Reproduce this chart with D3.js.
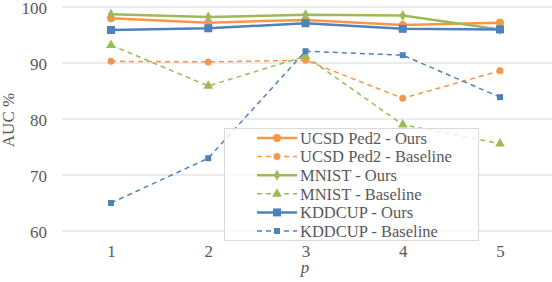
<!DOCTYPE html>
<html><head><meta charset="utf-8">
<script src="https://cdn.jsdelivr.net/npm/d3@7"></script>
<style>body{margin:0;background:#fff}svg{display:block}</style>
</head><body>
<svg id="c" width="552" height="282"></svg>
<script>
const categories = [1, 2, 3, 4, 5];
const yTicks = [60, 70, 80, 90, 100];
const seriesNames = ["UCSD Ped2 - Ours","UCSD Ped2 - Baseline","MNIST - Ours","MNIST - Baseline","KDDCUP - Ours","KDDCUP - Baseline"];
const ucsdOurs = [98.0, 97.2, 97.7, 96.8, 97.2];
const ucsdBase = [90.3, 90.2, 90.5, 83.7, 88.6];
const mnistOurs = [98.7, 98.2, 98.6, 98.5, 96.0];
const mnistBase = [93.2, 85.9, 91.2, 79.0, 75.6];
const kddOurs = [95.9, 96.2, 97.1, 96.1, 96.0];
const kddBase = [65.0, 73.0, 92.1, 91.4, 83.9];

const styles = [
  {c:"#F79646", dash:null, w:2.5, m:"circle", s:4},
  {c:"#F79646", dash:"5,4", w:1.5, m:"circle", s:3.5},
  {c:"#9BBB59", dash:null, w:2.5, m:"diamond", s:4},
  {c:"#9BBB59", dash:"5,4", w:1.5, m:"triangle", s:4},
  {c:"#4F81BD", dash:null, w:2.5, m:"square", s:4},
  {c:"#4F81BD", dash:"5,4", w:1.5, m:"square", s:3}
];
const data = [ucsdOurs, ucsdBase, mnistOurs, mnistBase, kddOurs, kddBase];
const FONT = "'Liberation Serif'";

const svg = d3.select("#c");
const x = d3.scalePoint().domain(categories).range([111, 500]);
const y = d3.scaleLinear().domain([60, 100]).range([231, 7]);

function txt(sel, size) {
  return sel.style("font-family", FONT).style("font-size", size + "px").attr("fill", "#595959");
}

// gridlines
svg.append("g").selectAll("line").data(yTicks).join("line")
  .attr("x1", 62).attr("x2", 552).attr("y1", d=>y(d)).attr("y2", d=>y(d))
  .attr("stroke", "#d9d9d9").attr("stroke-width", 1.2);

// y axis
const ya = svg.append("g").attr("transform","translate(47,0)")
  .call(d3.axisLeft(y).tickValues(yTicks).tickSize(0).tickPadding(0));
ya.select(".domain").remove();
txt(ya.selectAll("text"), 17).attr("dy", "0.36em");

// x axis
const xa = svg.append("g").attr("transform","translate(0,245)")
  .call(d3.axisBottom(x).tickSize(0).tickPadding(0));
xa.select(".domain").remove();
txt(xa.selectAll("text"), 17).attr("dy","0.71em");

txt(svg.append("text").attr("x", 305).attr("y", 273).attr("text-anchor","middle"), 17)
  .attr("font-style","italic").text("p");
txt(svg.append("text").attr("transform","translate(8,120) rotate(-90)").attr("text-anchor","middle").attr("dy","0.35em"), 17)
  .text("AUC %");

const symMap = {circle:d3.symbolCircle, diamond:d3.symbolDiamond, triangle:d3.symbolTriangle, square:d3.symbolSquare};
function marker(g, st, cx, cy) {
  const size = st.m==="circle" ? Math.PI*st.s*st.s : st.m==="square" ? (2*st.s)**2 : st.m==="triangle" ? st.s*st.s*2.6 : st.s*st.s*2.2;
  g.append("path").attr("d", d3.symbol().type(symMap[st.m]).size(size)())
    .attr("transform", `translate(${cx},${cy})`).attr("fill", st.c);
}

const line = d3.line().x((d,i)=>x(categories[i])).y(d=>y(d));
const order = [1,3,5,0,2,4];
order.forEach(k=>{
  const st = styles[k];
  const g = svg.append("g");
  g.append("path").datum(data[k]).attr("d", line).attr("fill","none")
    .attr("stroke", st.c).attr("stroke-width", st.w).attr("stroke-dasharray", st.dash);
  data[k].forEach((v,i)=>marker(g, st, x(categories[i]), y(v)));
});

// legend
const lg = svg.append("g");
lg.append("rect").attr("x", 224.5).attr("y", 128.5).attr("width", 254).attr("height", 112)
  .attr("fill","#fff").attr("fill-opacity",0.8).attr("stroke","#d9d9d9");
seriesNames.forEach((n,i)=>{
  const st = styles[i];
  const yy = 138 + i*18.6;
  lg.append("line").attr("x1",257).attr("x2",297).attr("y1",yy).attr("y2",yy)
    .attr("stroke",st.c).attr("stroke-width",st.w).attr("stroke-dasharray",st.dash);
  marker(lg, st, 277, yy);
  txt(lg.append("text").attr("x",300).attr("y",yy).attr("dy","0.35em"), 16.5).text(n);
});
</script>
</body></html>
